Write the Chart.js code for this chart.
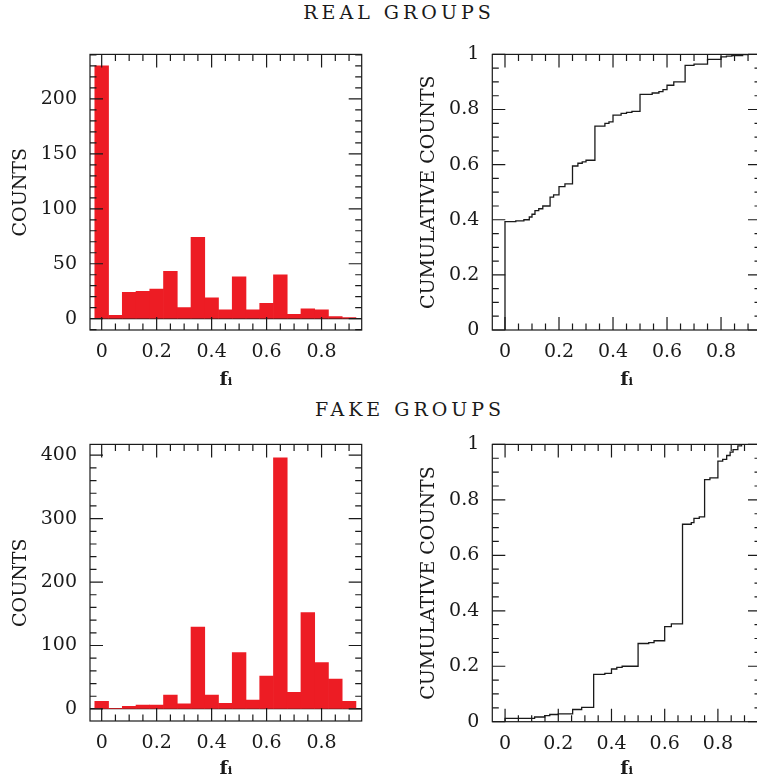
<!DOCTYPE html>
<html>
<head>
<meta charset="utf-8">
<script src="https://cdn.jsdelivr.net/npm/chart.js@4"></script>
<style>
  body { margin: 0; background: #fff; overflow: hidden; }
  #page { position: relative; width: 757px; height: 783px; overflow: hidden; }
  canvas { position: absolute; }
  .title {
    position: absolute; transform: translateX(-50%); white-space: nowrap;
    font: 19px "DejaVu Serif", serif; letter-spacing: 4px; color: #1a1a1a;
  }
</style>
</head>
<body>
<div id="page">
  <div class="title" style="left: 399px; top: 1px">REAL GROUPS</div>
  <div class="title" style="left: 410px; top: 398px">FAKE GROUPS</div>
  <canvas id="realHist" width="380" height="375" style="left: 0; top: 30px"></canvas>
  <canvas id="realCum" width="385" height="375" style="left: 380px; top: 30px"></canvas>
  <canvas id="fakeHist" width="380" height="363" style="left: 0; top: 420px"></canvas>
  <canvas id="fakeCum" width="385" height="363" style="left: 380px; top: 420px"></canvas>
</div>
<script>
// histogram bins of f_i (width 0.05)
const binCenters = [0, 0.05, 0.1, 0.15, 0.2, 0.25, 0.3, 0.35, 0.4, 0.45, 0.5, 0.55, 0.6, 0.65, 0.7, 0.75, 0.8, 0.85, 0.9]
const realCounts = [230, 3, 24, 25, 27, 43, 10, 74, 19, 8, 38, 8, 14, 40, 4, 9, 8, 2, 1]
const fakeCounts = [12, 1, 4, 6, 6, 22, 8, 129, 22, 9, 89, 14, 52, 396, 26, 152, 73, 47, 12]

// cumulative distributions: value reached at each f_i
const realCumX = [0, 0, 0.04, 0.07, 0.09, 0.1, 0.111, 0.125, 0.14, 0.167, 0.18, 0.2, 0.222, 0.25, 0.27, 0.286, 0.3, 0.333, 0.37, 0.385, 0.4, 0.43, 0.45, 0.47, 0.5, 0.545, 0.57, 0.585, 0.6, 0.625, 0.667, 0.7, 0.75, 0.8, 0.82, 0.84, 0.88, 0.9, 0.95]
const realCumY = [0, 0.393, 0.396, 0.4, 0.41, 0.42, 0.433, 0.44, 0.45, 0.482, 0.49, 0.52, 0.53, 0.595, 0.605, 0.61, 0.616, 0.74, 0.75, 0.755, 0.78, 0.786, 0.79, 0.793, 0.855, 0.86, 0.865, 0.872, 0.888, 0.9, 0.96, 0.965, 0.982, 0.991, 0.994, 0.996, 0.999, 1, 1]
const fakeCumX = [0, 0, 0.111, 0.149, 0.168, 0.2, 0.254, 0.288, 0.333, 0.375, 0.4, 0.42, 0.44, 0.5, 0.54, 0.56, 0.6, 0.625, 0.667, 0.7, 0.71, 0.73, 0.75, 0.77, 0.8, 0.818, 0.833, 0.846, 0.857, 0.875, 0.889, 0.96]
const fakeCumY = [0, 0.012, 0.017, 0.022, 0.026, 0.028, 0.044, 0.052, 0.171, 0.174, 0.19, 0.196, 0.2, 0.282, 0.285, 0.292, 0.343, 0.353, 0.712, 0.718, 0.733, 0.739, 0.873, 0.879, 0.94, 0.946, 0.96, 0.972, 0.981, 0.995, 1, 1]

const fTicks = [0, 0.2, 0.4, 0.6, 0.8]
const realCountTicks = [0, 50, 100, 150, 200]
const fakeCountTicks = [0, 100, 200, 300, 400]
const cumTicks = [0, 0.2, 0.4, 0.6, 0.8, 1]

const ink = '#1a1a1a'
const barRed = '#ed1c24'
const labelFont = { family: 'DejaVu Serif', size: 19 }

// values of minor/major marks between min and max
function marks(min, max, minor, major) {
  const out = []
  for (let k = Math.ceil(min / minor - 1e-9); k * minor <= max + 1e-9; k++) {
    const v = k * minor
    const r = v / major
    out.push([v, Math.abs(r - Math.round(r)) < 1e-6])
  }
  return out
}

// box round the plot with inward tick marks on all four sides
const frameTicks = {
  id: 'frameTicks',
  afterDraw(chart, args, o) {
    const { ctx, chartArea: a } = chart
    const x = chart.scales.x, y = chart.scales.y
    ctx.save()
    ctx.strokeStyle = ink
    ctx.lineWidth = 1.2
    ctx.strokeRect(a.left, a.top, a.right - a.left, a.bottom - a.top)
    ctx.beginPath()
    marks(x.min, x.max, o.xMinor, o.xMajor).forEach(([v, major]) => {
      const px = x.getPixelForValue(v), len = major ? 13 : 6.5
      ctx.moveTo(px, a.bottom); ctx.lineTo(px, a.bottom - len)
      ctx.moveTo(px, a.top); ctx.lineTo(px, a.top + len)
    })
    marks(y.min, y.max, o.yMinor, o.yMajor).forEach(([v, major]) => {
      const py = y.getPixelForValue(v), len = major ? 13 : 6.5
      ctx.moveTo(a.left, py); ctx.lineTo(a.left + len, py)
      ctx.moveTo(a.right, py); ctx.lineTo(a.right - len, py)
    })
    ctx.stroke()
    ctx.restore()
  },
}

function setTicks(values) {
  return scale => { scale.ticks = values.map(v => ({ value: v })) }
}

function axes({ xMin, xMax, yMin, yMax, yTicks, yTitle, yWidth, xHeight, zeroLine, titlePad }) {
  return {
    x: {
      type: 'linear', min: xMin, max: xMax, offset: false,
      afterBuildTicks: setTicks(fTicks),
      afterFit: s => { s.height = xHeight },
      grid: { display: false },
      border: { display: false },
      ticks: { font: labelFont, color: ink, padding: 3, maxRotation: 0, callback: v => String(v) },
      title: { display: true, text: 'fᵢ', color: ink, font: { family: 'DejaVu Serif', size: 19, weight: 'bold' }, padding: { top: 0, bottom: titlePad } },
    },
    y: {
      min: yMin, max: yMax,
      afterBuildTicks: setTicks(yTicks),
      afterFit: s => { s.width = yWidth },
      grid: {
        display: zeroLine, drawTicks: false,
        color: c => (c.tick && c.tick.value === 0 ? ink : 'rgba(0,0,0,0)'),
        lineWidth: 1.2,
      },
      border: { display: false },
      ticks: { font: labelFont, color: ink, padding: 13, callback: v => String(v) },
      title: { display: true, text: yTitle, color: ink, font: labelFont, padding: 0 },
    },
  }
}

function histogram(id, counts, opts) {
  new Chart(document.getElementById(id), {
    type: 'bar',
    data: {
      datasets: [{
        data: binCenters.map((c, i) => ({ x: c, y: counts[i] })),
        backgroundColor: barRed,
        borderWidth: 0,
        barPercentage: 1,
        categoryPercentage: 1,
      }],
    },
    options: {
      responsive: false,
      animation: false,
      layout: { padding: opts.padding },
      plugins: {
        legend: { display: false },
        tooltip: { enabled: false },
        frameTicks: opts.marks,
      },
      scales: axes(opts),
    },
    plugins: [frameTicks],
  })
}

function cumulative(id, xs, ys, opts) {
  new Chart(document.getElementById(id), {
    type: 'line',
    data: {
      datasets: [{
        data: xs.map((x, i) => ({ x, y: ys[i] })),
        borderColor: ink,
        borderWidth: 1.3,
        pointRadius: 0,
        stepped: 'before',
        fill: false,
      }],
    },
    options: {
      responsive: false,
      animation: false,
      layout: { padding: opts.padding },
      plugins: {
        legend: { display: false },
        tooltip: { enabled: false },
        frameTicks: opts.marks,
      },
      scales: axes(opts),
    },
    plugins: [frameTicks],
  })
}

histogram('realHist', realCounts, {
  xMin: -0.0425, xMax: 0.946, yMin: -10.3, yMax: 240.5,
  yTicks: realCountTicks, yTitle: 'COUNTS', yWidth: 80, xHeight: 75, zeroLine: true, titlePad: 14,
  padding: { left: 10, top: 15, right: 18.3, bottom: 0 },
  marks: { xMinor: 0.05, xMajor: 0.2, yMinor: 10, yMajor: 50 },
})

cumulative('realCum', realCumX, realCumY, {
  xMin: -0.047, xMax: 0.948, yMin: 0, yMax: 1,
  yTicks: cumTicks, yTitle: 'CUMULATIVE COUNTS', yWidth: 74.3, xHeight: 75, zeroLine: false, titlePad: 14,
  padding: { left: 38, top: 14.3, right: 4, bottom: 0 },
  marks: { xMinor: 0.05, xMajor: 0.2, yMinor: 0.05, yMajor: 0.2 },
})

histogram('fakeHist', fakeCounts, {
  xMin: -0.0425, xMax: 0.946, yMin: -19, yMax: 417,
  yTicks: fakeCountTicks, yTitle: 'COUNTS', yWidth: 80, xHeight: 62, zeroLine: true, titlePad: 3,
  padding: { left: 10, top: 15, right: 18.3, bottom: 0 },
  marks: { xMinor: 0.05, xMajor: 0.2, yMinor: 20, yMajor: 100 },
})

cumulative('fakeCum', fakeCumX, fakeCumY, {
  xMin: -0.048, xMax: 0.962, yMin: 0, yMax: 1,
  yTicks: cumTicks, yTitle: 'CUMULATIVE COUNTS', yWidth: 74.3, xHeight: 61.3, zeroLine: false, titlePad: 3,
  padding: { left: 38, top: 15.3, right: 4, bottom: 0 },
  marks: { xMinor: 0.05, xMajor: 0.2, yMinor: 0.05, yMajor: 0.2 },
})
</script>
</body>
</html>
